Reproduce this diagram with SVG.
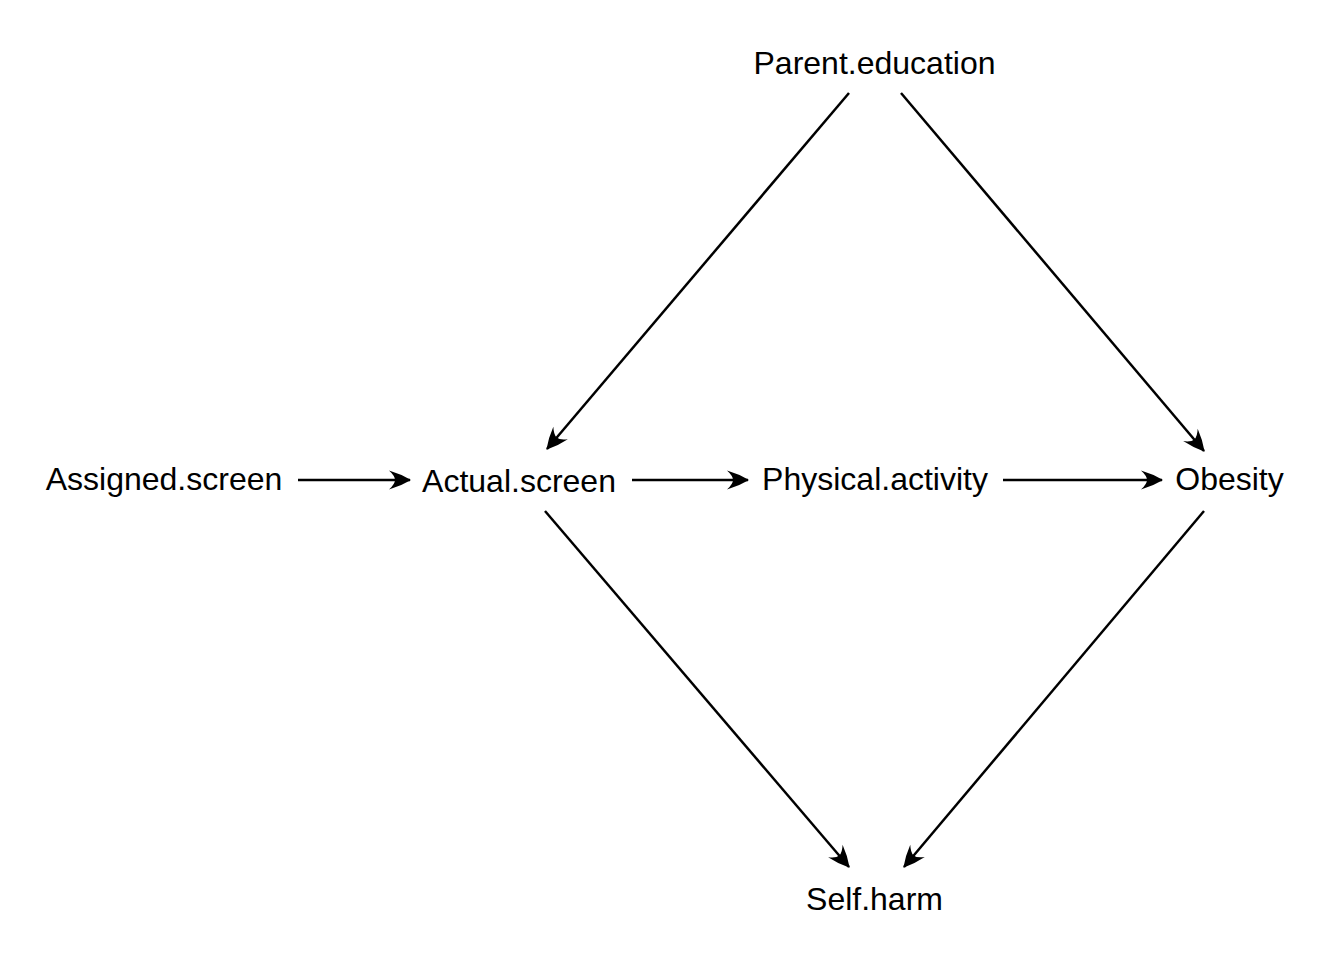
<svg xmlns="http://www.w3.org/2000/svg" width="1344" height="960" viewBox="0 0 1344 960">
<defs>
<style>
.lbl{font-family:"Liberation Sans",Arial,sans-serif;font-size:32px;fill:#000;text-anchor:middle}
.edge{stroke:#000;stroke-width:2.5;fill:none;marker-end:url(#ah)}
</style>
<marker id="ah" markerUnits="userSpaceOnUse" viewBox="-24 -12 26 24" refX="0" refY="0" markerWidth="26" markerHeight="24" orient="auto">
<path d="M1,0 Q-9,-6 -21,-9.5 Q-15,-4 -15,0 Q-15,4 -21,9.5 Q-9,6 1,0 Z" fill="#000"/>
</marker>
</defs>
<rect width="1344" height="960" fill="#fff"/>
<g id="connectors">
<line class="edge" x1="298" y1="480" x2="410" y2="480"/>
<line class="edge" x1="632" y1="480" x2="748" y2="480"/>
<line class="edge" x1="1003" y1="480" x2="1162" y2="480"/>
<line class="edge" x1="849" y1="93" x2="547" y2="449"/>
<line class="edge" x1="901" y1="93" x2="1204" y2="451"/>
<line class="edge" x1="545" y1="511" x2="849" y2="867"/>
<line class="edge" x1="1204" y1="511" x2="904" y2="867"/>
</g>
<g id="Parent.education"><text class="lbl" x="874.5" y="74">Parent.education</text></g>
<g id="Assigned.screen"><text class="lbl" x="164" y="490">Assigned.screen</text></g>
<g id="Actual.screen"><text class="lbl" x="519" y="492">Actual.screen</text></g>
<g id="Physical.activity"><text class="lbl" x="875" y="490">Physical.activity</text></g>
<g id="Obesity"><text class="lbl" x="1229.5" y="490">Obesity</text></g>
<g id="Self.harm"><text class="lbl" x="874.5" y="910">Self.harm</text></g>
</svg>
